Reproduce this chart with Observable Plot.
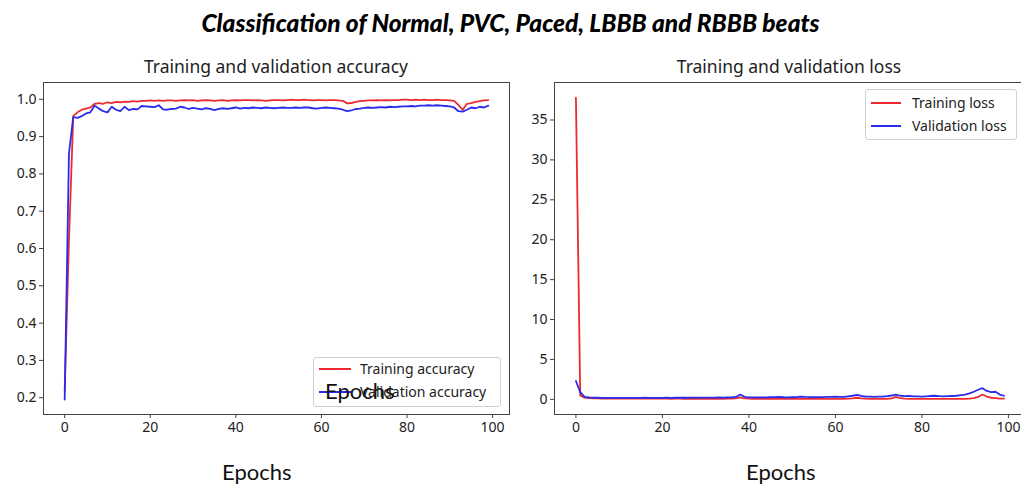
<!DOCTYPE html>
<html>
<head>
<meta charset="utf-8">
<script src="https://cdn.jsdelivr.net/npm/d3@7"></script>
<script src="https://cdn.jsdelivr.net/npm/@observablehq/plot@0.6"></script>
<style>
  html, body { margin: 0; padding: 0; background: #fff; overflow: hidden; }
  #page { position: relative; width: 1021px; height: 487px; overflow: hidden; background: #fff; }
  .abs { position: absolute; white-space: nowrap; }
  .main-title { font-family: Lato, "Open Sans", sans-serif; font-weight: 900; font-style: italic; font-size: 24.5px; color: #000; line-height: 1; }
  .sub-title { font-family: "Noto Sans", "Open Sans", sans-serif; font-size: 17.5px; color: #222; line-height: 1; }
  .xlabel { font-family: Lato, "Open Sans", sans-serif; font-size: 22px; color: #111; line-height: 1; }
  .legend { border: 1px solid #d0d0d0; border-radius: 3px; background: rgba(255,255,255,0.85); font-family: "Noto Sans", "Open Sans", sans-serif; font-size: 14px; color: #222; }
  .legend .swatch { position: absolute; height: 2px; }
  .legend .lab { position: absolute; transform: translateY(-50%); line-height: 1; }
</style>
</head>
<body>
<div id="page"></div>
<script>
// Per-epoch metrics recorded during training (epochs 0..99)
const trainAccuracy = [
  0.22, 0.62, 0.955, 0.965, 0.972, 0.975, 0.978, 0.988, 0.990, 0.988,
  0.992, 0.990, 0.993, 0.992, 0.994, 0.993, 0.995, 0.994, 0.996, 0.996,
  0.997, 0.996, 0.997, 0.996, 0.997, 0.997, 0.996, 0.997, 0.998, 0.997,
  0.998, 0.996, 0.997, 0.998, 0.997, 0.996, 0.997, 0.998, 0.996, 0.997,
  0.998, 0.997, 0.998, 0.998, 0.997, 0.998, 0.997, 0.996, 0.997, 0.998,
  0.998, 0.997, 0.998, 0.999, 0.998, 0.998, 0.999, 0.998, 0.997, 0.998,
  0.998, 0.997, 0.998, 0.998, 0.997, 0.996, 0.989, 0.990, 0.993, 0.995,
  0.996, 0.997, 0.997, 0.998, 0.997, 0.998, 0.997, 0.998, 0.998, 0.999,
  0.999, 0.998, 0.999, 0.998, 0.999, 0.998, 0.998, 0.999, 0.998, 0.998,
  0.997, 0.996, 0.985, 0.972, 0.988, 0.990, 0.993, 0.995, 0.997, 0.998
];
const valAccuracy = [
  0.195, 0.855, 0.952, 0.950, 0.955, 0.962, 0.965, 0.983, 0.975, 0.968,
  0.965, 0.980, 0.972, 0.968, 0.980, 0.971, 0.974, 0.973, 0.982, 0.981,
  0.980, 0.979, 0.984, 0.973, 0.972, 0.974, 0.975, 0.980, 0.978, 0.974,
  0.977, 0.975, 0.973, 0.976, 0.974, 0.971, 0.974, 0.976, 0.974, 0.976,
  0.978, 0.975, 0.977, 0.976, 0.978, 0.977, 0.976, 0.978, 0.977, 0.976,
  0.977, 0.978, 0.977, 0.977, 0.978, 0.977, 0.978, 0.978, 0.976, 0.975,
  0.977, 0.978, 0.977, 0.976, 0.975, 0.972, 0.968, 0.970, 0.974, 0.975,
  0.977, 0.978, 0.977, 0.978, 0.979, 0.978, 0.980, 0.979, 0.980, 0.981,
  0.981, 0.982, 0.981, 0.983, 0.983, 0.984, 0.983, 0.984, 0.983, 0.982,
  0.981, 0.978, 0.968, 0.967, 0.972, 0.978, 0.976, 0.980, 0.978, 0.983
];
const trainLoss = [
  37.8, 0.50, 0.22, 0.15, 0.12, 0.11, 0.10, 0.10, 0.09, 0.10,
  0.09, 0.09, 0.10, 0.09, 0.08, 0.09, 0.08, 0.08, 0.09, 0.08,
  0.08, 0.08, 0.07, 0.08, 0.08, 0.07, 0.08, 0.07, 0.07, 0.08,
  0.07, 0.07, 0.08, 0.07, 0.07, 0.08, 0.09, 0.12, 0.25, 0.12,
  0.08, 0.07, 0.07, 0.07, 0.06, 0.07, 0.07, 0.08, 0.07, 0.06,
  0.06, 0.07, 0.08, 0.07, 0.06, 0.06, 0.06, 0.07, 0.06, 0.06,
  0.06, 0.06, 0.07, 0.08, 0.12, 0.20, 0.12, 0.08, 0.07, 0.06,
  0.06, 0.06, 0.07, 0.12, 0.30, 0.15, 0.08, 0.06, 0.06, 0.05,
  0.05, 0.06, 0.05, 0.06, 0.05, 0.05, 0.05, 0.05, 0.06, 0.05,
  0.06, 0.08, 0.15, 0.30, 0.60, 0.35, 0.20, 0.15, 0.10, 0.10
];
const valLoss = [
  2.30, 0.90, 0.30, 0.25, 0.22, 0.20, 0.19, 0.18, 0.18, 0.19,
  0.18, 0.18, 0.19, 0.18, 0.18, 0.19, 0.20, 0.19, 0.18, 0.19,
  0.19, 0.20, 0.19, 0.20, 0.21, 0.20, 0.20, 0.21, 0.22, 0.21,
  0.22, 0.21, 0.22, 0.23, 0.22, 0.23, 0.25, 0.30, 0.60, 0.32,
  0.25, 0.24, 0.23, 0.24, 0.25, 0.26, 0.27, 0.30, 0.26, 0.25,
  0.26, 0.28, 0.35, 0.30, 0.27, 0.26, 0.27, 0.28, 0.30, 0.32,
  0.35, 0.30, 0.32, 0.38, 0.45, 0.55, 0.42, 0.35, 0.33, 0.32,
  0.33, 0.35, 0.40, 0.48, 0.60, 0.45, 0.40, 0.42, 0.38, 0.36,
  0.35, 0.38, 0.42, 0.45, 0.40, 0.38, 0.40, 0.42, 0.45, 0.52,
  0.60, 0.75, 0.95, 1.20, 1.40, 1.05, 0.90, 0.95, 0.60, 0.45
];

const xTicks = [0, 20, 40, 60, 80, 100];
const accTicks = [0.2, 0.3, 0.4, 0.5, 0.6, 0.7, 0.8, 0.9, 1.0];
const lossTicks = [0, 5, 10, 15, 20, 25, 30, 35];

const mainTitle = "Classification of Normal, PVC, Paced, LBBB and RBBB beats";
const accTitle = "Training and validation accuracy";
const lossTitle = "Training and validation loss";
const xLabel = "Epochs";
const accLegend = ["Training accuracy", "Validation accuracy"];
const lossLegend = ["Training loss", "Validation loss"];

const trainColor = "#ee2a2e";
const valColor = "#2b2bee";

const toRows = (arr) => arr.map((v, i) => ({epoch: i, value: v}));

const page = document.getElementById("page");

function addText(cls, text, css) {
  const el = document.createElement("div");
  el.className = "abs " + cls;
  el.textContent = text;
  Object.assign(el.style, css);
  page.appendChild(el);
  return el;
}

function panel({train, val, yDomain, yTicks, tickFormat, left, marginLeft, marginRight, width}) {
  const chart = Plot.plot({
    width, height: 400,
    marginTop: 32, marginBottom: 36, marginLeft, marginRight,
    style: {fontFamily: "'Noto Sans', sans-serif", fontSize: "14px", color: "#222", background: "transparent", overflow: "visible"},
    x: {domain: [-4.95, 103.95]},
    y: {domain: yDomain},
    marks: [
      Plot.lineY(toRows(train), {x: "epoch", y: "value", stroke: trainColor, strokeWidth: 1.8}),
      Plot.lineY(toRows(val), {x: "epoch", y: "value", stroke: valColor, strokeWidth: 1.8}),
      Plot.frame({stroke: "#444", strokeWidth: 1}),
      Plot.axisX(xTicks, {tickSize: 4, tickPadding: 4, label: null, stroke: "#444"}),
      Plot.axisY(yTicks, {tickSize: 4, tickPadding: 3, label: null, tickFormat, stroke: "#444"})
    ]
  });
  chart.style.position = "absolute";
  chart.style.left = left + "px";
  chart.style.top = "50px";
  page.appendChild(chart);
}

function legend(labels, css, rowYs, swatchX, swatchW, textX) {
  const box = document.createElement("div");
  box.className = "abs legend";
  Object.assign(box.style, css);
  [trainColor, valColor].forEach((c, i) => {
    const sw = document.createElement("div");
    sw.className = "swatch";
    Object.assign(sw.style, {left: swatchX + "px", top: (rowYs[i] - 1) + "px", width: swatchW + "px", background: c});
    box.appendChild(sw);
    const lab = document.createElement("div");
    lab.className = "lab";
    lab.textContent = labels[i];
    Object.assign(lab.style, {left: textX + "px", top: rowYs[i] + "px"});
    box.appendChild(lab);
  });
  page.appendChild(box);
}

// Accuracy panel
panel({
  train: trainAccuracy, val: valAccuracy,
  yDomain: [0.155, 1.045], yTicks: accTicks, tickFormat: d3.format(".1f"),
  left: 0, marginLeft: 43, marginRight: 11, width: 520
});
// Loss panel (its right edge runs past the page)
panel({
  train: trainLoss, val: valLoss,
  yDomain: [-1.9, 39.7], yTicks: lossTicks, tickFormat: d3.format("d"),
  left: 510, marginLeft: 44, marginRight: 5, width: 520
});

addText("main-title", mainTitle, {left: "0px", width: "1021px", textAlign: "center", top: "11px"});
addText("sub-title", accTitle, {left: "43px", width: "466px", textAlign: "center", top: "58px"});
addText("sub-title", lossTitle, {left: "554px", width: "470px", textAlign: "center", top: "58px"});

legend(accLegend, {left: "313px", top: "357px", width: "186px", height: "48px"}, [11, 34], 5, 32, 46);
legend(lossLegend, {left: "865px", top: "89px", width: "150px", height: "49px"}, [13, 36], 5, 30, 46);

addText("xlabel", xLabel, {left: "222px", top: "461px"});
addText("xlabel", xLabel, {left: "746px", top: "461px"});
addText("xlabel", xLabel, {left: "325px", top: "380px"});
</script>
</body>
</html>
